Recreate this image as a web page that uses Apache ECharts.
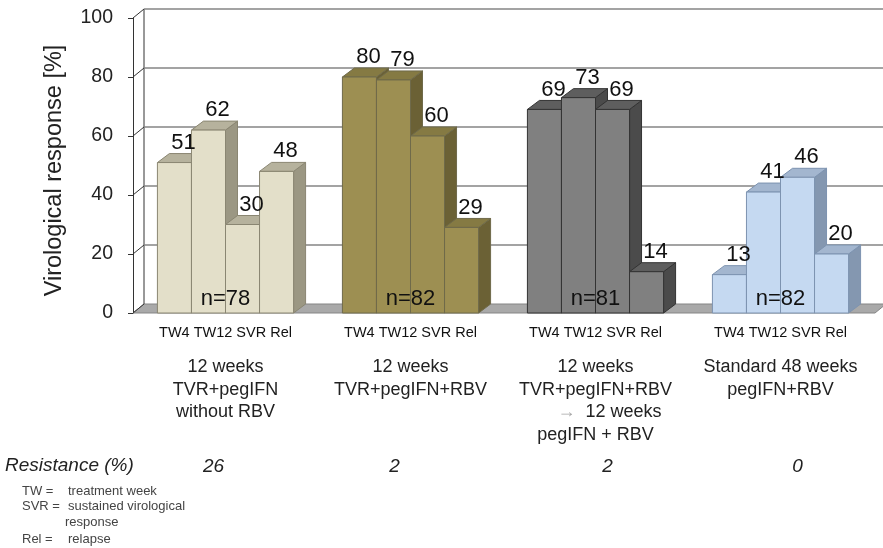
<!DOCTYPE html>
<html>
<head>
<meta charset="utf-8">
<script src="https://cdn.jsdelivr.net/npm/echarts@6/dist/echarts.min.js"></script>
<style>
  html, body { margin: 0; padding: 0; background: #fff; }
  #chart { width: 883px; height: 548px; }
</style>
</head>
<body>
<div id="chart"></div>
<script>
// Treatment arms (x-axis categories)
const groups = [
  '12 weeks\nTVR+pegIFN\nwithout RBV',
  '12 weeks\nTVR+pegIFN+RBV',
  '12 weeks\nTVR+pegIFN+RBV\n→  12 weeks\npegIFN + RBV',
  'Standard 48 weeks\npegIFN+RBV'
];
const metrics = ['TW4', 'TW12', 'SVR', 'Rel'];

// Virological response [%] per arm, in metric order
const tvrPegNoRbv = [51, 62, 30, 48];
const tvrPegRbv12 = [80, 79, 60, 29];
const tvrPegRbv24 = [69, 73, 69, 14];
const standard48 = [13, 41, 46, 20];

const sampleSizes = [78, 82, 81, 82];
const resistance = [26, 2, 2, 0];
const yTicks = [0, 20, 40, 60, 80, 100];

const FONT = '"Liberation Sans", Arial, sans-serif';

// Shading for the pseudo-3D columns: front, side, top, edge
const palette = [
  { front: '#e3dfc9', side: '#9b9783', top: '#b6b29d', edge: '#8a8672' },
  { front: '#9d8f52', side: '#6b6135', top: '#857a43', edge: '#6f6a4a' },
  { front: '#808080', side: '#4b4b4b', top: '#5e5e5e', edge: '#333333' },
  { front: '#c5d9f1', side: '#8497b0', top: '#a3b6cf', edge: '#7d93b0' }
];
// Depth offsets of columns and of the wall/floor
const DX = 12, DY = -9;
const WDX = 11, WDY = -9;
// Horizontal nudges of the resistance figures under each arm
const resistShift = [-12, -16, 12, 17];

const armValues = [tvrPegNoRbv, tvrPegRbv12, tvrPegRbv24, standard48];
const barData = [];
armValues.forEach((vals, g) => vals.forEach((v, m) => barData.push([g, m, v])));

function barGeom(api) {
  const g = api.value(0), m = api.value(1), v = api.value(2);
  const base = api.coord([g, 0]);
  const top = api.coord([g, v]);
  const band = api.size([1, 0])[0];
  const w = band * 0.184;
  const x0 = base[0] - 2 * w + m * w;
  return { g, v, x0, x1: x0 + w, w, yb: base[1], yt: top[1] };
}

function renderBar(params, api) {
  const b = barGeom(api);
  const c = palette[b.g];
  return {
    type: 'group',
    children: [
      { type: 'polygon', z2: params.dataIndex * 3,
        shape: { points: [[b.x1, b.yb], [b.x1 + DX, b.yb + DY], [b.x1 + DX, b.yt + DY], [b.x1, b.yt]] },
        style: { fill: c.side, stroke: c.edge, lineWidth: 1 } },
      { type: 'polygon', z2: params.dataIndex * 3 + 1,
        shape: { points: [[b.x0, b.yt], [b.x1, b.yt], [b.x1 + DX, b.yt + DY], [b.x0 + DX, b.yt + DY]] },
        style: { fill: c.top, stroke: c.edge, lineWidth: 1 } },
      { type: 'rect', z2: params.dataIndex * 3 + 2,
        shape: { x: b.x0, y: b.yt, width: b.w, height: b.yb - b.yt },
        style: { fill: c.front, stroke: c.edge, lineWidth: 1 } }
    ]
  };
}

function renderValueLabel(params, api) {
  const b = barGeom(api);
  return {
    type: 'text',
    x: b.x0 + b.w / 2 + DX / 2 + 3,
    y: b.yt + DY - 11,
    style: { text: String(b.v), font: '22px ' + FONT, fill: '#111',
             align: 'center', verticalAlign: 'middle' }
  };
}

function renderFrame(params, api) {
  const v = api.value(0);
  const cs = params.coordSys;
  const xL = cs.x, xR = cs.x + cs.width;
  const y = api.coord([0, v])[1];
  const children = [];
  if (v === 0) {
    const yTop = api.coord([0, yTicks[yTicks.length - 1]])[1];
    children.push({ type: 'polygon',
      shape: { points: [[xL, y], [xR + 2, y], [xR + 2 + WDX, y + WDY], [xL + WDX, y + WDY]] },
      style: { fill: '#a9a9a9', stroke: '#858585', lineWidth: 1 } });
    children.push({ type: 'line',
      shape: { x1: xL + WDX, y1: y + WDY, x2: xL + WDX, y2: yTop + WDY },
      style: { stroke: '#333', lineWidth: 1 } });
    children.push({ type: 'line',
      shape: { x1: xR + WDX, y1: y + WDY, x2: xR + WDX, y2: yTop + WDY },
      style: { stroke: '#8a8a8a', lineWidth: 1.5 } });
  } else {
    children.push({ type: 'line',
      shape: { x1: xL + WDX, y1: y + WDY, x2: xR + WDX, y2: y + WDY },
      style: { stroke: '#858585', lineWidth: 1.6 } });
  }
  children.push({ type: 'line',
    shape: { x1: xL, y1: y, x2: xL + WDX, y2: y + WDY },
    style: { stroke: '#333', lineWidth: 1 } });
  return { type: 'group', children };
}

function renderCount(params, api) {
  const g = api.value(0);
  const p = api.coord([g, 0]);
  return {
    type: 'text', x: p[0], y: p[1] - 14,
    style: { text: 'n=' + api.value(1), font: '22px ' + FONT, fill: '#111',
             align: 'center', verticalAlign: 'middle' }
  };
}

function renderResistance(params, api) {
  const g = api.value(0);
  const cs = params.coordSys;
  const p = api.coord([g, 0]);
  return {
    type: 'text', x: p[0] + resistShift[g], y: cs.y + cs.height + 154,
    style: { text: String(api.value(1)), font: 'italic 19px ' + FONT, fill: '#222',
             align: 'center', verticalAlign: 'middle' }
  };
}

function axisLabel(value, idx) {
  const lines = ['{s|' + metrics.join(' ') + '}', '{sp| }'];
  groups[idx].split('\n').forEach(l => {
    if (l.startsWith('→')) lines.push('{pad|}{arr|→}{g|' + l.slice(1) + '}');
    else lines.push('{g|' + l + '}');
  });
  return lines.join('\n');
}

const chart = echarts.init(document.getElementById('chart'));
chart.setOption({
  animation: false,
  backgroundColor: '#fff',
  grid: { left: 133, right: 10, top: 18, bottom: 235 },
  xAxis: {
    type: 'category',
    data: groups,
    axisLine: { show: false },
    axisTick: { show: false },
    axisLabel: {
      interval: 0, margin: 8, formatter: axisLabel,
      rich: {
        s: { fontSize: 14.5, lineHeight: 24, color: '#111', fontFamily: FONT },
        sp: { fontSize: 6, lineHeight: 11 },
        g: { fontSize: 18, lineHeight: 22.6, color: '#222', fontFamily: FONT },
        arr: { fontSize: 18, lineHeight: 22.6, color: '#aaaaaa', fontFamily: FONT },
        pad: { width: 28, lineHeight: 22.6 }
      }
    }
  },
  yAxis: {
    type: 'value', min: 0, max: 100, interval: 20,
    name: 'Virological response [%]',
    nameLocation: 'middle', nameRotate: 90, nameGap: 66,
    nameTextStyle: { fontSize: 23.5, color: '#222', fontFamily: FONT, padding: [0, 10, 0, 0] },
    axisLine: { show: true, lineStyle: { color: '#333', width: 1 } },
    axisTick: { show: true, length: 5, lineStyle: { color: '#333' } },
    axisLabel: { margin: 20, fontSize: 19.5, color: '#222', fontFamily: FONT },
    splitLine: { show: false }
  },
  series: [
    { type: 'custom', name: 'frame', z: 1, clip: false, silent: true,
      renderItem: renderFrame, data: yTicks.map(t => [t]), encode: { y: 0 } },
    { type: 'custom', name: 'response', z: 2, clip: false,
      renderItem: renderBar, data: barData, encode: { x: 0, y: 2 } },
    { type: 'custom', name: 'values', z: 3, clip: false, silent: true,
      renderItem: renderValueLabel, data: barData, encode: { x: 0, y: 2 } },
    { type: 'custom', name: 'n', z: 4, clip: false, silent: true,
      renderItem: renderCount, data: sampleSizes.map((n, g) => [g, n]), encode: { x: 0 } },
    { type: 'custom', name: 'resistance', z: 4, clip: false, silent: true,
      renderItem: renderResistance, data: resistance.map((r, g) => [g, r]), encode: { x: 0 } }
  ],
  graphic: [
    { type: 'text', left: 5, top: 456,
      style: { text: 'Resistance (%)', font: 'italic 19px ' + FONT, fill: '#222' } },
    { type: 'group', left: 22, top: 485, children: [
      { type: 'text', x: 0, y: 0, style: { text: 'TW =', font: '13px ' + FONT, fill: '#444' } },
      { type: 'text', x: 46, y: 0, style: { text: 'treatment week', font: '13px ' + FONT, fill: '#444' } },
      { type: 'text', x: 0, y: 15, style: { text: 'SVR =', font: '13px ' + FONT, fill: '#444' } },
      { type: 'text', x: 46, y: 15, style: { text: 'sustained virological', font: '13px ' + FONT, fill: '#444' } },
      { type: 'text', x: 43, y: 31, style: { text: 'response', font: '13px ' + FONT, fill: '#444' } },
      { type: 'text', x: 0, y: 48, style: { text: 'Rel =', font: '13px ' + FONT, fill: '#444' } },
      { type: 'text', x: 46, y: 48, style: { text: 'relapse', font: '13px ' + FONT, fill: '#444' } }
    ] }
  ]
});
</script>
</body>
</html>
